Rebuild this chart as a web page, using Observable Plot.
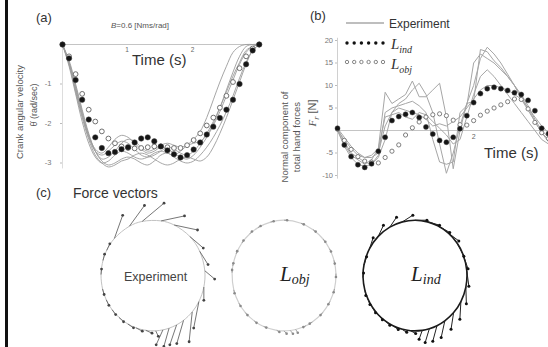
<!DOCTYPE html>
<html><head><meta charset="utf-8">
<script src="https://cdn.jsdelivr.net/npm/d3@7"></script>
<script src="https://cdn.jsdelivr.net/npm/@observablehq/plot@0.6"></script>
<style>
body{margin:0;background:#fff;}
#fig{position:relative;width:548px;height:347px;overflow:hidden;background:#fff;font-family:"Liberation Sans",Arial,sans-serif;color:#333;}
.abs{position:absolute;white-space:nowrap;line-height:1;}
.rot{transform:translate(-50%,-50%) rotate(-90deg);}
.serif{font-family:"Liberation Serif","DejaVu Serif",serif;font-style:italic;}
#fig svg{overflow:visible;}
</style></head><body><div id="fig"></div>
<script>
// ---------- Panel (a): crank angular velocity (rad/s) ----------
const timeA = [0,0.1,0.2,0.3,0.4,0.5,0.6,0.7,0.8,0.9,1.0,1.1,1.2,1.3,1.4,1.5,1.6,1.7,1.8,1.9,2.0,2.1,2.2,2.3,2.4,2.5,2.6,2.7,2.8,2.9,3.0];
const expA1 = [0,-0.5,-1.15,-1.8,-2.35,-2.7,-2.9,-2.85,-2.7,-2.5,-2.4,-2.45,-2.6,-2.7,-2.65,-2.55,-2.5,-2.55,-2.6,-2.55,-2.5,-2.45,-2.3,-2.0,-1.6,-1.15,-0.7,-0.3,-0.05,0,0];
const expA2 = [0,-0.45,-1.1,-1.75,-2.3,-2.65,-2.75,-2.6,-2.4,-2.3,-2.35,-2.5,-2.65,-2.75,-2.7,-2.6,-2.65,-2.75,-2.85,-2.9,-2.8,-2.6,-2.35,-2.05,-1.7,-1.3,-0.9,-0.5,-0.2,-0.05,0];
const expA3 = [0,-0.4,-1.0,-1.65,-2.25,-2.7,-2.95,-3.05,-3.0,-2.9,-2.85,-2.9,-3.0,-3.05,-2.95,-2.8,-2.75,-2.85,-2.95,-3.0,-2.95,-2.8,-2.6,-2.35,-2.05,-1.7,-1.3,-0.85,-0.45,-0.15,0];
const expA4 = [0,-0.5,-1.2,-1.85,-2.4,-2.8,-3.0,-3.1,-3.05,-2.95,-2.9,-2.8,-2.75,-2.8,-2.9,-3.0,-3.05,-3.0,-2.9,-2.85,-2.9,-2.95,-2.85,-2.6,-2.25,-1.85,-1.4,-0.95,-0.5,-0.15,0];
const expA5 = [0,-0.45,-1.05,-1.7,-2.3,-2.7,-2.8,-2.7,-2.55,-2.45,-2.5,-2.65,-2.8,-2.85,-2.8,-2.7,-2.6,-2.65,-2.75,-2.8,-2.7,-2.5,-2.25,-1.95,-1.6,-1.2,-0.8,-0.45,-0.15,-0.05,0];
const expA6 = [0,-0.55,-1.25,-1.95,-2.5,-2.85,-3.0,-2.95,-2.8,-2.7,-2.75,-2.85,-2.9,-2.85,-2.75,-2.7,-2.75,-2.8,-2.7,-2.55,-2.4,-2.2,-1.85,-1.4,-0.95,-0.55,-0.2,-0.05,0,0,0];
const lindA = [0,-0.35,-0.9,-1.4,-1.9,-2.35,-2.62,-2.75,-2.72,-2.65,-2.6,-2.48,-2.38,-2.35,-2.45,-2.58,-2.68,-2.78,-2.86,-2.8,-2.66,-2.48,-2.28,-2.08,-1.86,-1.65,-1.4,-1.0,-0.5,-0.15,0];
const lobjA = [0,-0.3,-0.75,-1.25,-1.65,-1.95,-2.2,-2.38,-2.5,-2.58,-2.62,-2.63,-2.62,-2.6,-2.58,-2.58,-2.6,-2.62,-2.62,-2.55,-2.42,-2.25,-2.05,-1.85,-1.6,-1.3,-0.95,-0.6,-0.3,-0.1,0];
const ticksAy = [-1,-2,-3];
const ticksAx = [1,2];

// ---------- Panel (b): normal component of hand force (N) ----------
const timeB = [0,0.1,0.2,0.3,0.4,0.5,0.6,0.7,0.8,0.9,1.0,1.1,1.2,1.3,1.4,1.5,1.6,1.7,1.8,1.9,2.0,2.1,2.2,2.3,2.4,2.5,2.6,2.7,2.8,2.9,3.0,3.1];
const expB1 = [0,-3,-5.5,-6.5,-7.5,-6.5,-4,8.5,6,7,8,11,7.5,7.5,9,10.5,3,-8.5,0,6,6.5,18,17.5,15.5,14,12,10,7.5,5,2,-0.5,-2];
const expB2 = [0.5,-2.5,-5,-6,-7,-7.5,-5.5,4,5,5.5,6,6.5,5.5,4,-2,-7,-7.5,-7,4,5.5,15,17,16,15,13.5,12,10,8,5.5,2.5,0,-1.5];
const expB3 = [0,-2,-4,-5.5,-6,-5.5,-4,3,3.5,4,3,2.5,4,3.5,2,0.5,-1,-3,-2,3,8,12,13.5,12,10,8,6,4,2,0,-2,-3];
const expB4 = [0,-3.5,-6,-7.5,-8,-7.5,-6,-2,4,6,7,9,10.5,8,4,-3,-9.5,-5,1,6,10,16,18.5,17,15,12.5,10,7,4.5,2,-0.5,-2.5];
const expB5 = [0.5,-1.5,-3.5,-5,-6,-6,-5,1,4,5,4.5,4,3.5,2.5,1,1.5,1,2,3,5,7,9,10,10,9.5,9,8,7,5,3,1,-0.5];
const lindB = [0.5,-3.2,-5.8,-7.6,-8.2,-7.4,-4.6,-1.5,2.2,3.1,3.6,4.0,2.9,0.8,-0.8,-2.2,-2.6,-1.5,0.4,3.3,6.2,8.2,9.3,9.6,9.3,8.9,8.4,8.0,6.7,4.4,0.5,-0.7];
const lobjB = [0.3,-2.2,-4.2,-5.8,-6.8,-7.0,-7.2,-6.0,-4.6,-3.2,-1.0,0.6,1.9,3.0,3.5,3.7,3.3,2.3,1.3,1.2,2.2,3.4,4.3,5.0,5.7,6.4,7.0,6.9,4.8,1.8,-0.5,-1.8];
const ticksBy = [-10,-5,5,10,15,20];
const ticksBx = [2];

// ---------- Panel (c): force vectors along the crank path ----------
const models = ["Experiment","Lobj","Lind"];
const expAng = [138,117,102,81,66,45,26,5,-12,-28,-41,-54,-63,-72,-79,-87,-98,-109,-119,-131,-142,-154,-166,179,164,153];
const expDx  = [0.16,0.29,0.42,0.45,0.45,0.26,0.16,0.19,0,-0.1,-0.06,-0.13,-0.13,-0.1,-0.13,0.05,0.12,0.12,0.11,0.09,0.07,0.05,0.03,0.01,0.03,0.06];
const expDy  = [0.42,0.375,0.33,0.09,-0.09,-0.21,-0.24,-0.15,-0.24,-0.48,-0.54,-0.42,-0.36,-0.33,-0.27,-0.1,-0.05,-0.06,-0.07,-0.08,-0.09,-0.1,-0.1,0.1,0.11,0.12];
const lobjAng = [105,90,71,56,41,29,16,2,-14,-28,-42,-57,-65,-77,-83,-90,-98,-113,-125,-138,-150,-165,177,170,157,144,131,120];
const lobjDx  = [0.06,0.06,0.055,0.05,0.04,0.03,0.015,0,-0.015,-0.03,-0.04,-0.05,-0.05,0.04,0.05,0.05,0.05,0.05,0.045,0.04,0.03,0.015,0,0.01,0.02,0.03,0.04,0.05];
const lobjDy  = [0.015,0,-0.02,-0.035,-0.045,-0.05,-0.06,-0.06,-0.06,-0.05,-0.045,-0.03,-0.025,-0.06,-0.06,-0.05,-0.03,-0.02,-0.035,-0.045,-0.05,-0.06,0.05,0.05,0.05,0.045,0.04,0.03];
const lindAng = [169,151,135,119,104,90,76,64,50,36,23,5,-12,-28,-42,-55,-65,-74,-82,-95,-105,-115,-125,-135,-145,-155,-165,-178];
const lindDx  = [0.05,0.07,0.1,0.13,0.2,0.23,0.23,0.23,0.2,0.13,0.1,0.04,0.01,-0.02,-0.05,-0.07,-0.08,-0.08,-0.06,0.1,0.1,0.1,0.09,0.08,0.06,0.04,0.02,0.01];
const lindDy  = [0.15,0.2,0.2,0.18,0.12,0,-0.06,-0.12,-0.14,-0.24,-0.27,-0.28,-0.3,-0.32,-0.3,-0.3,-0.28,-0.25,-0.16,-0.05,-0.06,-0.07,-0.08,-0.09,-0.1,-0.1,-0.1,0.08];

// ---------- tables ----------
const rowsA = (name, vals) => vals.map((v,i)=>({run:name, t:timeA[i], v}));
const expRowsA = [expA1,expA2,expA3,expA4,expA5,expA6].flatMap((s,k)=>rowsA("e"+k, s));
const lindRowsA = rowsA("lind", lindA), lobjRowsA = rowsA("lobj", lobjA);
const rowsB = (name, vals) => vals.map((v,i)=>({run:name, t:timeB[i], v}));
const expRowsB = [expB1,expB2,expB3,expB4,expB5].flatMap((s,k)=>rowsB("e"+k, s));
const lindRowsB = rowsB("lind", lindB), lobjRowsB = rowsB("lobj", lobjB);
function vecs(model, ang, dx, dy){
  return ang.map((a,i)=>{const r=a*Math.PI/180, bx=Math.cos(r), by=Math.sin(r);
    return {model, a, bx, by, tx:bx+dx[i], ty:by+dy[i]};}).sort((p,q)=>q.a-p.a);
}
const vExp = vecs("Experiment", expAng, expDx, expDy);
const vObj = vecs("Lobj", lobjAng, lobjDx, lobjDy);
const vInd = vecs("Lind", lindAng, lindDx, lindDy);

const fig = document.getElementById("fig");
const font = "Liberation Sans, Arial, sans-serif";

// ---------- Plot A ----------
const plotA = Plot.plot({
  width: 270, height: 185,
  marginLeft: 62, marginRight: 8, marginTop: 36.1, marginBottom: 10.65,
  style: {fontFamily: font, background: "transparent"},
  x: {domain: [0, 3.05], axis: null},
  y: {domain: [-3.3, 0.2], axis: null},
  marks: [
    Plot.ruleY([0], {stroke: "#c4c4c4", strokeWidth: 1}),
    Plot.ruleX([0], {y1: -3.15, y2: 0, stroke: "#dddddd"}),
    Plot.axisY({ticks: ticksAy, tickSize: 2, tickPadding: 9, fontSize: 7.5, fill: "#777", stroke: "#bbb", label: null, tickFormat: d => "-" + Math.abs(d)}),
    Plot.text(ticksAx, {x: d => d, y: () => 0, text: d => String(d), dy: 5, dx: -1, fontSize: 6.5, fill: "#666"}),
    Plot.line(expRowsA, {x: "t", y: "v", z: "run", stroke: "#9c9c9c", strokeWidth: 0.9, curve: "catmull-rom"}),
    Plot.dot(lobjRowsA, {x: "t", y: "v", r: 2.4, stroke: "#707070", fill: "white", strokeWidth: 1}),
    Plot.dot(lindRowsA, {x: "t", y: "v", r: 2.7, fill: "#151515", stroke: "#444", strokeWidth: 0.5})
  ]
});
plotA.style.position = "absolute"; plotA.style.left = "0px"; plotA.style.top = "0px";
fig.appendChild(plotA);

// ---------- Plot B ----------
const plotB = Plot.plot({
  width: 278, height: 185,
  marginLeft: 67, marginRight: 0, marginTop: 35.5, marginBottom: 5.5,
  style: {fontFamily: font, background: "transparent"},
  x: {domain: [0, 3.1], axis: null},
  y: {domain: [-11, 21], axis: null},
  marks: [
    Plot.ruleY([0], {stroke: "#c4c4c4", strokeWidth: 1}),
    Plot.ruleX([0], {y1: -10.8, y2: 20.5, stroke: "#d0d0d0"}),
    Plot.axisY({ticks: ticksBy, tickSize: 2, tickPadding: 2.5, fontSize: 7.5, fill: "#777", stroke: "#bbb", label: null, tickFormat: d => d < 0 ? "-" + Math.abs(d) : String(d)}),
    Plot.text(ticksBx, {x: d => d, y: () => 0, text: d => String(d), dy: 6, fontSize: 7, fill: "#666"}),
    Plot.line(expRowsB, {x: "t", y: "v", z: "run", stroke: "#a6a6a6", strokeWidth: 1}),
    Plot.dot(lobjRowsB, {x: "t", y: "v", r: 2.1, stroke: "#707070", fill: "white", strokeWidth: 0.9}),
    Plot.dot(lindRowsB, {x: "t", y: "v", r: 2.5, fill: "#151515", stroke: "#444", strokeWidth: 0.5})
  ]
});
plotB.style.position = "absolute"; plotB.style.left = "270px"; plotB.style.top = "0px";
fig.appendChild(plotB);

// ---------- Plot C (faceted by model) ----------
const labelRows = [{model: "Experiment"}];
const lRows = [{model: "Lobj", sub: "obj"}, {model: "Lind", sub: "ind"}];
const plotC = Plot.plot({
  width: 548, height: 147,
  marginLeft: 86.25, marginRight: 67.25, marginTop: 2, marginBottom: 0,
  style: {fontFamily: font, background: "transparent", overflow: "visible"},
  fx: {domain: models, padding: 0, axis: null},
  x: {domain: [-1.26, 1.26], axis: null},
  y: {domain: [-1.3, 1.32], axis: null},
  marks: [
    Plot.line(vExp, {fx: "model", x: "bx", y: "by", curve: "catmull-rom-closed", stroke: "#c2c2c2", strokeWidth: 1}),
    Plot.line(vObj, {fx: "model", x: "bx", y: "by", curve: "catmull-rom-closed", stroke: "#cfcfcf", strokeWidth: 1.2}),
    Plot.line(vInd, {fx: "model", x: "bx", y: "by", curve: "catmull-rom-closed", stroke: "#1a1a1a", strokeWidth: 1.6}),
    Plot.link(vExp, {fx: "model", x1: "bx", y1: "by", x2: "tx", y2: "ty", stroke: "#666", strokeWidth: 0.9}),
    Plot.dot(vExp, {fx: "model", x: "tx", y: "ty", r: 1.4, fill: "#444"}),
    Plot.link(vObj, {fx: "model", x1: "bx", y1: "by", x2: "tx", y2: "ty", stroke: "#999", strokeWidth: 0.9}),
    Plot.dot(vObj, {fx: "model", x: "tx", y: "ty", r: 1.3, fill: "#8a8a8a"}),
    Plot.link(vInd, {fx: "model", x1: "bx", y1: "by", x2: "tx", y2: "ty", stroke: "#222", strokeWidth: 1}),
    Plot.dot(vInd, {fx: "model", x: "tx", y: "ty", r: 1.5, fill: "#111"}),
    Plot.text(labelRows, {fx: "model", x: () => 0.05, y: () => -0.03, text: () => "Experiment", fontSize: 12.5, fill: "#444"}),
    Plot.text(lRows, {fx: "model", x: () => 0.15, y: () => 0.02, text: () => "L", fontSize: 21, fontStyle: "italic", fontFamily: "Liberation Serif, serif", fill: "#222", textAnchor: "end"}),
    Plot.text(lRows, {fx: "model", x: () => 0.15, y: () => 0.02, text: "sub", dy: 5, fontSize: 14, fontStyle: "italic", fontFamily: "Liberation Serif, serif", fill: "#222", textAnchor: "start"})
  ]
});
plotC.style.position = "absolute"; plotC.style.left = "0px"; plotC.style.top = "200px";
fig.appendChild(plotC);

// ---------- text & legend overlays ----------
const html = `
<div class="abs" style="left:5px;top:0;width:2.5px;height:347px;background:#111;"></div>
<div class="abs" style="left:36px;top:11px;font-size:13px;">(a)</div>
<div class="abs" style="left:111px;top:22px;font-size:8px;color:#555;"><i>B</i>=0.6 [Nms/rad]</div>
<div class="abs" style="left:132px;top:52px;font-size:15px;">Time (s)</div>
<div class="abs rot" style="left:20px;top:112px;font-size:9.5px;color:#555;">Crank angular velocity</div>
<div class="abs rot" style="left:34px;top:105px;font-size:9px;color:#555;">θ̇ (rad/sec)</div>
<div class="abs" style="left:310px;top:9px;font-size:13px;">(b)</div>
<svg class="abs" style="left:340px;top:14px;" width="50" height="60">
  <line x1="6" x2="44" y1="9" y2="9" stroke="#a8a8a8" stroke-width="1.6"/>
  ${[0,1,2,3,4,5].map(i=>`<circle cx="${7+i*7.2}" cy="29" r="1.7" fill="#111"/>`).join("")}
  ${[0,1,2,3,4,5].map(i=>`<circle cx="${7+i*7.2}" cy="48" r="1.7" fill="white" stroke="#777" stroke-width="0.9"/>`).join("")}
</svg>
<div class="abs" style="left:389px;top:18px;font-size:12px;">Experiment</div>
<div class="abs serif" style="left:391px;top:37px;font-size:15px;">L<sub style="font-size:10px;">ind</sub></div>
<div class="abs serif" style="left:391px;top:57px;font-size:15px;">L<sub style="font-size:10px;">obj</sub></div>
<div class="abs rot" style="left:285px;top:137px;font-size:9.5px;color:#555;">Normal component of</div>
<div class="abs rot" style="left:297px;top:137px;font-size:9.5px;color:#555;">total hand forces</div>
<div class="abs rot" style="left:314px;top:113px;font-size:11px;color:#555;"><span class="serif">F<sub style="font-size:8px;">r</sub></span> [N]</div>
<div class="abs" style="left:484px;top:145px;font-size:15px;">Time (s)</div>
<div class="abs" style="left:36px;top:186px;font-size:13px;">(c)</div>
<div class="abs" style="left:73px;top:186px;font-size:14px;">Force vectors</div>
`;
fig.insertAdjacentHTML("beforeend", html);
</script></body></html>
